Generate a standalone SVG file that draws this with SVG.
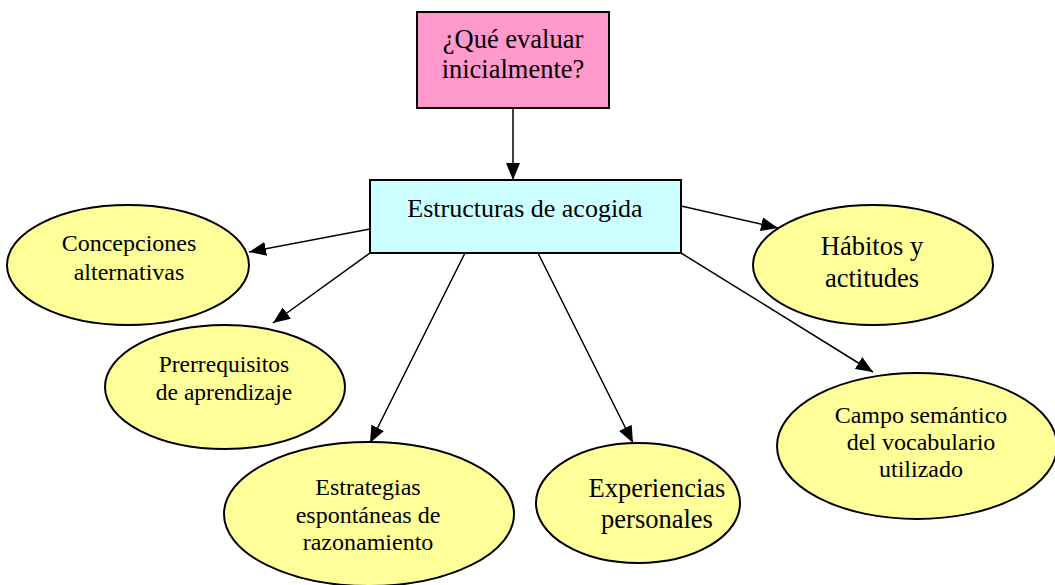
<svg xmlns="http://www.w3.org/2000/svg" width="1055" height="585" viewBox="0 0 1055 585">
<defs>
<style>
text{font-family:"Liberation Serif","Times New Roman",serif;fill:#000;text-anchor:middle}
.el{fill:#FFFF99;stroke:#000;stroke-width:2}
.c{stroke:#000;stroke-width:1.5;fill:none;marker-end:url(#ah)}
</style>
<marker id="ah" markerUnits="userSpaceOnUse" markerWidth="18" markerHeight="14" refX="17" refY="7" orient="auto">
<path d="M0,0 L17,7 L0,14 Z" fill="#000"/>
</marker>
</defs>
<rect width="1055" height="585" fill="#fff"/>
<g id="connectors">
<line class="c" x1="513" y1="108" x2="513" y2="180"/>
<line class="c" x1="370" y1="229" x2="249" y2="252"/>
<line class="c" x1="370" y1="253" x2="273" y2="323"/>
<line class="c" x1="465" y1="253" x2="370" y2="443"/>
<line class="c" x1="538" y1="253" x2="633" y2="443"/>
<line class="c" x1="681" y1="206" x2="778" y2="228"/>
<line class="c" x1="681" y1="253" x2="873" y2="372"/>
</g>
<g id="n-que">
<rect x="417" y="12" width="192" height="96" fill="#FF99CC" stroke="#000" stroke-width="2"/>
<text x="513" y="48" font-size="26.5">¿Qué evaluar</text>
<text x="513" y="78" font-size="26.5">inicialmente?</text>
</g>
<g id="n-estructuras">
<rect x="370" y="180" width="311" height="73" fill="#CCFFFF" stroke="#000" stroke-width="2"/>
<text x="525" y="217" font-size="26">Estructuras de acogida</text>
</g>
<g id="n-concepciones">
<ellipse class="el" cx="128" cy="265" rx="121" ry="60"/>
<text x="129" y="251" font-size="24">Concepciones</text>
<text x="129" y="280" font-size="24">alternativas</text>
</g>
<g id="n-prerrequisitos">
<ellipse class="el" cx="225" cy="387" rx="120" ry="62"/>
<text x="224" y="372" font-size="23.5">Prerrequisitos</text>
<text x="224" y="400" font-size="23.5">de aprendizaje</text>
</g>
<g id="n-estrategias">
<ellipse class="el" cx="369" cy="514" rx="145" ry="72"/>
<text x="368" y="495" font-size="24">Estrategias</text>
<text x="368" y="523" font-size="24">espontáneas de</text>
<text x="368" y="550" font-size="24">razonamiento</text>
</g>
<g id="n-experiencias">
<ellipse class="el" cx="638" cy="503" rx="102" ry="60"/>
<text x="657" y="497" font-size="26.5">Experiencias</text>
<text x="657" y="528" font-size="26.5">personales</text>
</g>
<g id="n-habitos">
<ellipse class="el" cx="873" cy="265" rx="120" ry="60"/>
<text x="872" y="255" font-size="26.5">Hábitos y</text>
<text x="872" y="287" font-size="26.5">actitudes</text>
</g>
<g id="n-campo">
<ellipse class="el" cx="917" cy="446" rx="140" ry="73"/>
<text x="921" y="423" font-size="24">Campo semántico</text>
<text x="921" y="450" font-size="24">del vocabulario</text>
<text x="921" y="477" font-size="24">utilizado</text>
</g>
</svg>
